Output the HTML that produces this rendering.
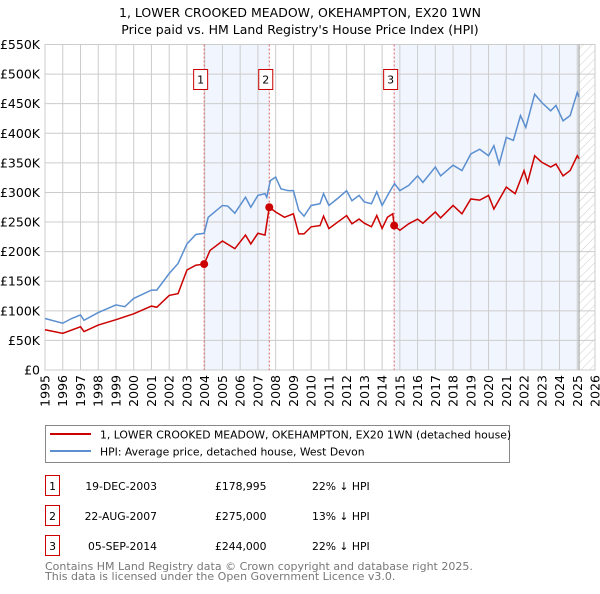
<!DOCTYPE html>
<html><head><meta charset="utf-8"><style>
body{margin:0;background:#fff;font-family:"DejaVu Sans","Liberation Sans",sans-serif;}
svg text{font-family:"DejaVu Sans","Liberation Sans",sans-serif;}
</style></head><body>
<svg id="chart" width="600" height="590" xmlns="http://www.w3.org/2000/svg">
<defs><pattern id="hatch" width="6" height="6" patternUnits="userSpaceOnUse" patternTransform="rotate(45)"><line x1="0" y1="0" x2="0" y2="6" stroke="#ccc" stroke-width="1"/></pattern></defs>
<text x="300" y="17" font-size="12.5" text-anchor="middle">1, LOWER CROOKED MEADOW, OKEHAMPTON, EX20 1WN</text>
<text x="300" y="34" font-size="12.5" text-anchor="middle">Price paid vs. HM Land Registry's House Price Index (HPI)</text>
<g id="plot"></g>
<rect x="45.5" y="425.5" width="464" height="37" fill="#fff" stroke="#888"/>
<line x1="50" y1="434" x2="91" y2="434" stroke="#cc0000" stroke-width="2"/>
<text x="100" y="438.5" font-size="10.8">1, LOWER CROOKED MEADOW, OKEHAMPTON, EX20 1WN (detached house)</text>
<line x1="50" y1="451" x2="91" y2="451" stroke="#5b8fd0" stroke-width="2"/>
<text x="100" y="455.5" font-size="10.8">HPI: Average price, detached house, West Devon</text>
<g font-size="10.8">
<rect x="45.5" y="475.5" width="14" height="20" fill="#fff" stroke="#cc0000"/><text x="52.5" y="490" text-anchor="middle">1</text>
<text x="157" y="490" text-anchor="end">19-DEC-2003</text><text x="215" y="490">£178,995</text><text x="312" y="490">22% ↓ HPI</text>
<rect x="45.5" y="505.5" width="14" height="20" fill="#fff" stroke="#cc0000"/><text x="52.5" y="520" text-anchor="middle">2</text>
<text x="157" y="520" text-anchor="end">22-AUG-2007</text><text x="215" y="520">£275,000</text><text x="312" y="520">13% ↓ HPI</text>
<rect x="45.5" y="535.5" width="14" height="20" fill="#fff" stroke="#cc0000"/><text x="52.5" y="550" text-anchor="middle">3</text>
<text x="157" y="550" text-anchor="end">05-SEP-2014</text><text x="215" y="550">£244,000</text><text x="312" y="550">22% ↓ HPI</text>
</g>
<text x="45" y="570" font-size="11" fill="#777">Contains HM Land Registry data © Crown copyright and database right 2025.</text>
<text x="45" y="580" font-size="11" fill="#777">This data is licensed under the Open Government Licence v3.0.</text>
</svg>
<script>
const yTicks=[0,50000,100000,150000,200000,250000,300000,350000,400000,450000,500000,550000];
const yTickLabels=["£0","£50K","£100K","£150K","£200K","£250K","£300K","£350K","£400K","£450K","£500K","£550K"];
const years=[1995,1996,1997,1998,1999,2000,2001,2002,2003,2004,2005,2006,2007,2008,2009,2010,2011,2012,2013,2014,2015,2016,2017,2018,2019,2020,2021,2022,2023,2024,2025,2026];
const hpiT=[1995,1996,1996.5,1997,1997.2,1998,1999,1999.5,2000,2001,2001.3,2002,2002.5,2003,2003.5,2003.97,2004.2,2005,2005.3,2005.7,2006.3,2006.6,2007,2007.4,2007.5,2007.7,2008,2008.3,2008.7,2009,2009.3,2009.6,2010,2010.5,2010.7,2011,2011.5,2012,2012.3,2012.7,2013,2013.4,2013.7,2014,2014.4,2014.7,2015,2015.5,2016,2016.3,2017,2017.3,2018,2018.5,2019,2019.5,2020,2020.3,2020.6,2021,2021.4,2021.8,2022.1,2022.6,2023,2023.5,2023.8,2024.2,2024.6,2025,2025.1];
const hpiV=[87,79,87,93,84,97,110,107,121,135,135,163,180,213,229,231,258,278,277,265,292,275,295,298,292,320,326,306,303,303,270,260,278,281,298,278,290,303,286,295,284,281,301,278,300,315,303,312,328,317,343,328,346,337,365,373,362,379,348,393,388,430,410,466,452,438,447,421,430,469,461];
const ppT=[1995,1996,1997,1997.2,1998,1999,2000,2001,2001.3,2002,2002.5,2003,2003.5,2003.97,2004.3,2005,2005.7,2006.3,2006.6,2007,2007.4,2007.64,2008,2008.5,2009,2009.3,2009.6,2010,2010.5,2010.7,2011,2011.5,2012,2012.3,2012.7,2013,2013.4,2013.7,2014,2014.3,2014.6,2014.68,2015,2015.5,2016,2016.3,2017,2017.3,2018,2018.5,2019,2019.5,2020,2020.3,2021,2021.5,2022,2022.2,2022.6,2023,2023.5,2023.8,2024.2,2024.6,2025,2025.1];
const ppV=[68,62,73,65,76,85,95,108,106,126,129,169,177,179,202,218,205,228,213,231,228,275,267,258,264,230,230,242,244,260,239,250,261,247,255,248,242,261,239,258,264,244,236,247,255,248,267,257,278,264,289,287,295,272,309,298,337,317,362,351,343,348,328,337,362,357];
const saleT=[2003.97,2007.64,2014.68];
const saleV=[178995,275000,244000];
const saleLabels=["1","2","3"];
const X0=45,X1=595,Y0=370,Y1=44.5;
const xs=t=>X0+(t-1995)/31*(X1-X0);
const ys=v=>Y0-v/550000*(Y0-Y1);
const NS="http://www.w3.org/2000/svg";
const g=document.getElementById('plot');
function mk(tag,attrs,parent){const e=document.createElementNS(NS,tag);for(const k in attrs)e.setAttribute(k,attrs[k]);(parent||g).appendChild(e);return e;}
let s=mk('rect',{x:xs(saleT[0]),y:Y1,width:xs(saleT[1])-xs(saleT[0]),height:Y0-Y1,fill:'#eef3fc',opacity:0.8});


s=mk('rect',{x:xs(saleT[2]),y:Y1,width:xs(2025.1)-xs(saleT[2]),height:Y0-Y1,fill:'#eef3fc',opacity:0.8});


s=mk('rect',{x:xs(2025.1),y:Y1,width:X1-xs(2025.1),height:Y0-Y1,fill:'url(#hatch)'});


yTicks.forEach((v,i)=>{
 const l=mk('line',{x1:X0,x2:X1,y1:ys(v),y2:ys(v),stroke:'#ccc','stroke-width':1});
 
 
 const t=mk('text',{x:X0-5,y:ys(v)+4.5,'font-size':12.5,'text-anchor':'end'});
 t.textContent=yTickLabels[i];
 
 
});
years.forEach(y=>{
 const l=mk('line',{x1:xs(y),x2:xs(y),y1:Y1,y2:Y0,stroke:'#ccc','stroke-width':1});
 
 
 const t=mk('text',{x:0,y:0,'font-size':12.5,'text-anchor':'end',transform:`translate(${xs(y)+4.5},${Y0+5}) rotate(-90)`});
 t.textContent=y;
 
 
});
const b=mk('rect',{x:X0,y:Y1,width:X1-X0,height:Y0-Y1,fill:'none',stroke:'#ccc'});


const nl=mk('line',{x1:xs(2025.1),x2:xs(2025.1),y1:Y1,y2:Y0,stroke:'#999','stroke-width':1});


saleT.forEach((t,i)=>{
 const l=mk('line',{x1:xs(t),x2:xs(t),y1:Y1,y2:Y0,stroke:'#e06060','stroke-width':1,'stroke-dasharray':'2,2'});
 
 
 const r=mk('rect',{x:xs(t)-10.5,y:69.5,width:14,height:20,fill:'#fff',stroke:'#cc0000'});
 
 
 const tx=mk('text',{x:xs(t)-3.5,y:83.5,'font-size':11,'text-anchor':'middle'});
 tx.textContent=saleLabels[i];
 
 
});
const hp=mk('polyline',{points:hpiT.map((t,i)=>xs(t)+','+ys(hpiV[i]*1000)).join(' '),fill:'none',stroke:'#5b8fd0','stroke-width':1.5});


const pp=mk('polyline',{points:ppT.map((t,i)=>xs(t)+','+ys(ppV[i]*1000)).join(' '),fill:'none',stroke:'#cc0000','stroke-width':1.5});


saleT.forEach((t,i)=>{
 const c=mk('circle',{cx:xs(t),cy:ys(saleV[i]),r:4,fill:'#cc0000'});
 
 
});
</script>
</body></html>
